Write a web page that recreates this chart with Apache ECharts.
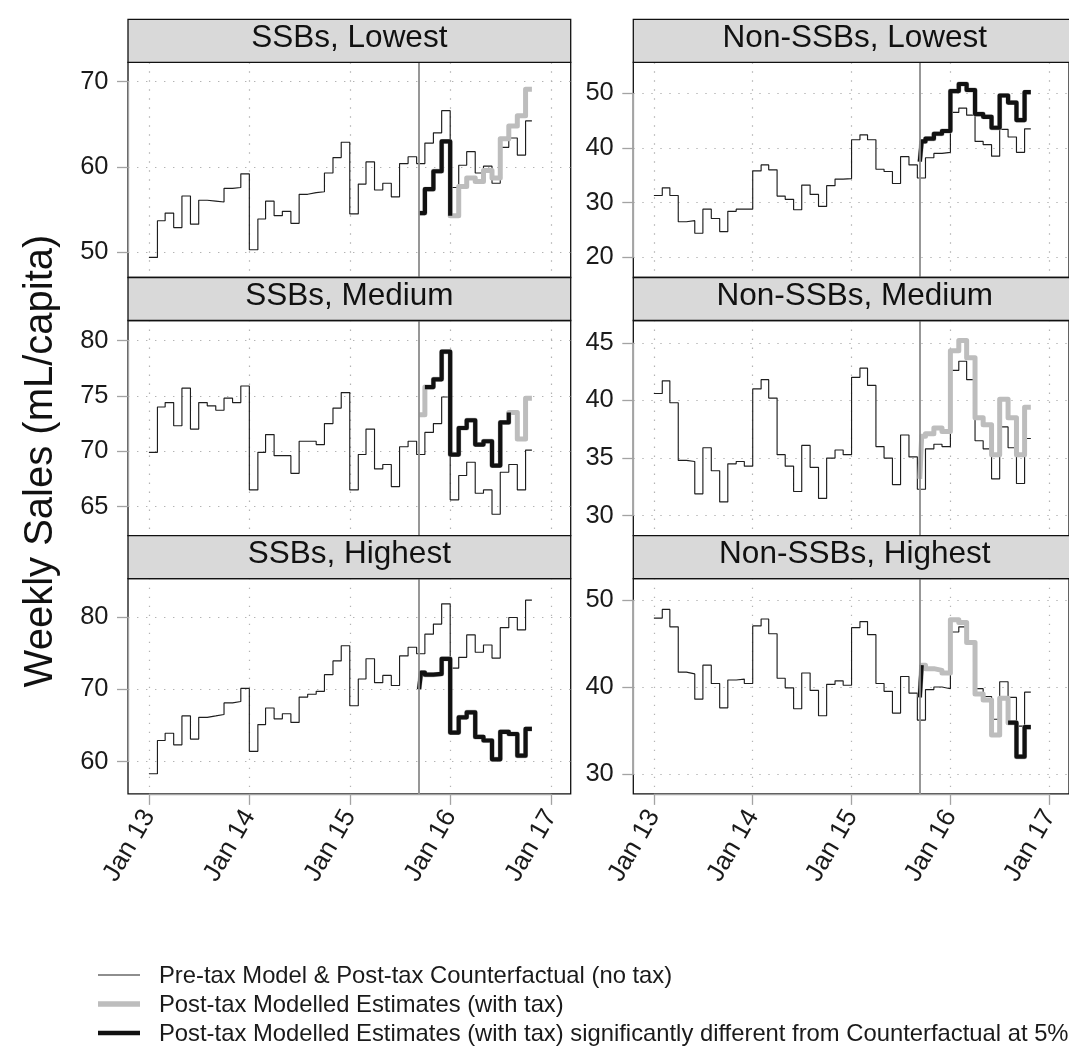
<!DOCTYPE html>
<html>
<head>
<meta charset="utf-8">
<script src="https://cdn.jsdelivr.net/npm/echarts@6/dist/echarts.min.js"></script>
<style>
  html, body { margin: 0; padding: 0; background: #fff; }
  #chart { width: 1069px; height: 1057px; }
</style>
</head>
<body>
<div id="chart"></div>
<script>
// ---- dates -------------------------------------------------------------
function ts(s) {
  const p = s.split('-').map(Number);
  return new Date(p[0], p[1] - 1, p[2]).getTime();
}
// monthly periods, Jan 2013 .. Oct 2016
const monthLabels = [];
for (let y = 2013; y <= 2016; y++) {
  for (let m = 1; m <= 12; m++) {
    if (y === 2016 && m > 10) break;
    monthLabels.push(y + '-' + String(m).padStart(2, '0') + '-01');
  }
}
const taxDate = '2015-09-10';
const seriesEnd = '2016-10-24';
// post-tax periods: first week after the tax, rest of Sep 2015, then Oct 2015 .. Oct 2016
const postLabels = ['2015-09-10', '2015-09-17'].concat(monthLabels.slice(33));
const yearTickLabels = ['2013-01-01', '2014-01-01', '2015-01-01', '2016-01-01', '2017-01-01'];

// ---- values (mL/capita per week) --------------------------------------
// Pre-tax model & post-tax counterfactual, Jan 2013 .. Oct 2016
const ssbLowestBase = [49.4, 53.7, 54.6, 52.9, 56.6, 53.3, 56.1, 56.0, 55.9, 57.5, 57.6, 59.2,
  50.3, 53.9, 56.0, 54.3, 54.8, 53.4, 56.8, 57.0, 57.1, 59.3, 61.1, 62.9,
  54.5, 58.0, 60.6, 57.3, 58.1, 56.5, 60.4, 61.2, 60.4, 62.8, 64.0, 66.6,
  57.6, 60.2, 61.8, 59.3, 60.1, 58.1, 62.3, 63.4, 61.4, 65.4];
const nonSsbLowestBase = [31.3, 32.7, 31.3, 26.5, 26.7, 24.4, 28.8, 27.1, 24.7, 28.4, 28.8, 28.8,
  35.8, 36.9, 36.0, 31.2, 30.6, 28.7, 33.2, 31.5, 29.3, 33.1, 34.3, 34.4,
  41.5, 42.4, 41.5, 36.1, 35.7, 33.5, 38.4, 36.9, 34.5, 38.2, 39.0, 39.2,
  46.5, 47.3, 46.0, 41.2, 40.6, 38.5, 43.4, 42.0, 39.2, 43.5];
const ssbMediumBase = [69.9, 74.0, 74.4, 72.3, 75.7, 72.0, 74.4, 74.1, 73.7, 74.8, 74.4, 75.9,
  66.5, 69.9, 71.5, 69.6, 69.6, 68.0, 70.9, 70.9, 70.6, 72.5, 73.9, 75.3,
  66.5, 69.7, 72.0, 68.4, 68.8, 66.8, 70.4, 70.9, 69.7, 71.7, 72.5, 74.9,
  65.6, 67.8, 69.0, 66.2, 66.5, 64.3, 68.1, 68.8, 66.5, 70.1];
const nonSsbMediumBase = [40.6, 41.7, 39.8, 34.8, 34.7, 31.9, 35.9, 33.9, 31.2, 34.5, 34.7, 34.3,
  41.0, 41.8, 40.2, 35.3, 34.3, 32.1, 36.1, 34.2, 31.5, 35.0, 35.7, 35.3,
  42.0, 42.8, 41.3, 36.0, 35.0, 32.7, 37.0, 35.1, 32.3, 35.8, 36.2, 36.0,
  42.6, 43.4, 41.8, 36.5, 35.8, 33.2, 37.7, 35.9, 32.8, 36.7];
const ssbHighestBase = [58.3, 62.9, 63.9, 62.3, 66.3, 63.1, 66.1, 66.3, 66.5, 68.1, 68.3, 70.1,
  61.4, 65.1, 67.4, 65.9, 66.6, 65.4, 68.9, 69.3, 69.7, 72.0, 73.9, 76.0,
  67.7, 71.4, 74.2, 70.9, 71.9, 70.5, 74.6, 75.8, 74.9, 77.6, 79.0, 81.8,
  72.9, 74.4, 77.5, 75.1, 76.1, 74.3, 78.5, 79.9, 78.2, 82.3];
const nonSsbHighestBase = [47.9, 48.9, 46.9, 41.7, 41.5, 38.6, 42.5, 40.4, 37.6, 40.8, 40.9, 40.4,
  47.0, 47.8, 46.1, 41.0, 39.9, 37.5, 41.6, 39.6, 36.7, 40.3, 40.7, 40.2,
  46.8, 47.5, 46.0, 40.4, 39.5, 37.0, 41.2, 39.3, 36.2, 39.7, 40.0, 39.8,
  46.3, 46.9, 45.1, 39.8, 38.9, 36.3, 40.6, 38.8, 35.5, 39.4];

// Post-tax modelled estimates (with tax)
const ssbLowestTax = [54.6, 54.6, 57.4, 59.5, 63.0, 54.3, 57.7, 58.7, 58.3, 59.6, 58.7, 63.3, 64.8, 66.0, 69.1];
const nonSsbLowestTax = [37.5, 41.2, 41.7, 42.6, 43.1, 50.4, 51.7, 50.6, 46.2, 45.7, 43.7, 49.6, 48.3, 45.1, 50.2];
const ssbMediumTax = [73.3, 73.3, 75.8, 76.5, 79.0, 69.7, 72.1, 72.8, 70.6, 70.9, 68.7, 72.6, 73.5, 71.1, 74.8];
const nonSsbMediumTax = [33.2, 36.9, 37.1, 37.6, 37.3, 44.3, 45.2, 43.7, 38.5, 37.9, 35.3, 40.1, 38.5, 35.3, 39.4];
const ssbHighestTax = [70.0, 72.3, 72.0, 72.1, 74.2, 64.0, 66.1, 66.8, 63.4, 62.9, 60.3, 64.1, 63.8, 60.8, 64.5];
const nonSsbHighestTax = [38.8, 42.5, 42.1, 41.9, 41.6, 47.7, 47.4, 45.1, 39.2, 38.5, 34.5, 38.7, 35.9, 32.0, 35.4];

// 1 = significantly different from counterfactual at 5%
const ssbLowestSig = [1, 1, 1, 1, 1, 0, 0, 0, 0, 0, 0, 0, 0, 0, 0];
const nonSsbLowestSig = [1, 1, 1, 1, 1, 1, 1, 1, 1, 1, 1, 1, 1, 1, 1];
const ssbMediumSig = [0, 0, 1, 1, 1, 1, 1, 1, 1, 1, 1, 1, 0, 0, 0];
const nonSsbMediumSig = [0, 0, 0, 0, 0, 0, 0, 0, 0, 0, 0, 0, 0, 0, 0];
const ssbHighestSig = [1, 1, 1, 1, 1, 1, 1, 1, 1, 1, 1, 1, 1, 1, 1];
const nonSsbHighestSig = [1, 0, 0, 0, 0, 0, 0, 0, 0, 0, 0, 0, 1, 1, 1];

// y tick labels per panel
const ssbLowestTicks = [50, 60, 70];
const nonSsbLowestTicks = [20, 30, 40, 50];
const ssbMediumTicks = [65, 70, 75, 80];
const nonSsbMediumTicks = [30, 35, 40, 45];
const ssbHighestTicks = [60, 70, 80];
const nonSsbHighestTicks = [30, 40, 50];

const panelTitles = ['SSBs, Lowest', 'Non-SSBs, Lowest', 'SSBs, Medium',
  'Non-SSBs, Medium', 'SSBs, Highest', 'Non-SSBs, Highest'];

const legendLabels = [
  'Pre-tax Model & Post-tax Counterfactual (no tax)',
  'Post-tax Modelled Estimates (with tax)',
  'Post-tax Modelled Estimates (with tax) significantly different from Counterfactual at 5%'
];

// ---- panel setup --------------------------------------------------------
const panels = [
  { base: ssbLowestBase, tax: ssbLowestTax, sig: ssbLowestSig, ticks: ssbLowestTicks, yMin: 47.05, yMax: 72.27 },
  { base: nonSsbLowestBase, tax: nonSsbLowestTax, sig: nonSsbLowestSig, ticks: nonSsbLowestTicks, yMin: 16.3, yMax: 55.67 },
  { base: ssbMediumBase, tax: ssbMediumTax, sig: ssbMediumSig, ticks: ssbMediumTicks, yMin: 62.36, yMax: 81.82 },
  { base: nonSsbMediumBase, tax: nonSsbMediumTax, sig: nonSsbMediumSig, ticks: nonSsbMediumTicks, yMin: 28.27, yMax: 46.93 },
  { base: ssbHighestBase, tax: ssbHighestTax, sig: ssbHighestSig, ticks: ssbHighestTicks, yMin: 55.52, yMax: 85.27 },
  { base: nonSsbHighestBase, tax: nonSsbHighestTax, sig: nonSsbHighestSig, ticks: nonSsbHighestTicks, yMin: 27.73, yMax: 52.42 }
];

const FONT = "'Liberation Sans', Arial, Helvetica, sans-serif";
const COLS = [{ left: 128, width: 442.7 }, { left: 633.3, width: 443 }];
const STRIP_TOPS = [19.3, 277.5, 535.7];
const STRIP_H = 43;
const PLOT_H = 215.2;
const X_MIN = ts('2012-10-17');
const X_MAX = ts('2017-03-14');
const yearTicks = yearTickLabels.map(ts);
const monthX = monthLabels.map(ts);
const postX = postLabels.map(ts);
const endX = ts(seriesEnd);
const taxX = ts(taxDate);

const AXIS_GREY = '#a3a3a3';
const dotted = { type: [1.4, 7.6], color: '#b3b3b3', width: 1.2 };

const grids = [], xAxes = [], yAxes = [], series = [], graphics = [];

panels.forEach(function (p, i) {
  const col = i % 2, row = Math.floor(i / 2);
  const left = COLS[col].left, width = COLS[col].width;
  const stripTop = STRIP_TOPS[row];
  const bottomRow = row === 2;

  grids.push({
    left: left, top: stripTop + STRIP_H, width: width, height: PLOT_H,
    show: true, borderColor: '#111', borderWidth: 1.3, backgroundColor: '#fff'
  });

  // x is a timestamp on a linear scale
  xAxes.push({
    type: 'value', gridIndex: i, min: X_MIN, max: X_MAX,
    axisLine: { show: false },
    axisTick: { show: bottomRow, customValues: yearTicks, length: 11, lineStyle: { color: AXIS_GREY, width: 1.3 } },
    axisLabel: {
      show: bottomRow, customValues: yearTicks, rotate: 60, margin: 18,
      fontSize: 26, fontFamily: FONT, color: '#1a1a1a',
      formatter: function (v) { return 'Jan ' + String(new Date(v).getFullYear()).slice(2); }
    },
    splitLine: { show: true, lineStyle: dotted }
  });

  yAxes.push({
    type: 'value', gridIndex: i, min: p.yMin, max: p.yMax,
    axisLine: { show: false },
    axisTick: { show: true, customValues: p.ticks, length: 11, lineStyle: { color: AXIS_GREY, width: 1.3 } },
    axisLabel: { customValues: p.ticks, margin: 19.5, fontSize: 25.5, fontFamily: FONT, color: '#1a1a1a' },
    splitLine: { show: true, lineStyle: dotted }
  });

  // axis segments between the outer ticks, and the tax start line
  const marks = [
    { xAxis: taxX, lineStyle: { color: '#8c8c8c', width: 1.8, type: 'solid' } },
    [{ coord: [X_MIN, p.ticks[0]] }, { coord: [X_MIN, p.ticks[p.ticks.length - 1]] }]
  ];
  if (bottomRow) {
    marks.push([{ coord: [yearTicks[0], p.yMin] }, { coord: [yearTicks[yearTicks.length - 1], p.yMin] }]);
  }

  const baseData = p.base.map(function (v, k) { return [monthX[k], v]; });
  baseData.push([endX, p.base[p.base.length - 1]]);

  const taxData = p.tax.map(function (v, k) { return [postX[k], v]; });
  taxData.push([endX, p.tax[p.tax.length - 1]]);

  series.push({
    type: 'line', xAxisIndex: i, yAxisIndex: i, step: 'end',
    showSymbol: false, symbol: 'none', clip: false, z: 2,
    lineStyle: { color: '#1e1e1e', width: 1.15 },
    data: baseData,
    markLine: {
      silent: true, symbol: ['none', 'none'], label: { show: false },
      emphasis: { disabled: true },
      lineStyle: { color: AXIS_GREY, width: 1.3, type: 'solid' },
      data: marks
    }
  });

  series.push({
    type: 'line', xAxisIndex: i, yAxisIndex: i, step: 'end',
    showSymbol: false, symbol: 'none', z: 3,
    lineStyle: { color: '#bdbdbd', width: 5, join: 'round' },
    data: taxData
  });

  // significant stretches drawn in black, each one up to the next period's value
  let k = 0;
  while (k < p.sig.length) {
    if (p.sig[k]) {
      let e = k;
      while (e + 1 < p.sig.length && p.sig[e + 1]) e++;
      series.push({
        type: 'line', xAxisIndex: i, yAxisIndex: i, step: 'end',
        showSymbol: false, symbol: 'none', z: 4,
        lineStyle: { color: '#111', width: 4.2, join: 'round' },
        data: taxData.slice(k, e + 2)
      });
      k = e + 1;
    } else {
      k++;
    }
  }

  // facet strip
  graphics.push({
    type: 'rect', z: 10,
    shape: { x: left, y: stripTop, width: width, height: STRIP_H },
    style: { fill: '#d9d9d9', stroke: '#111', lineWidth: 1.3 }
  });
  graphics.push({
    type: 'text', z: 11, x: left + width / 2, y: stripTop + 19,
    style: { text: panelTitles[i], font: '31.5px ' + FONT, fill: '#111', align: 'center', verticalAlign: 'middle' }
  });
});

// y axis title
graphics.push({
  type: 'text', x: 41, y: 461, rotation: Math.PI / 2,
  style: { text: 'Weekly Sales (mL/capita)', font: '40px ' + FONT, fill: '#111', align: 'center', verticalAlign: 'middle' }
});

// legend
const legendStyles = [
  { stroke: '#1e1e1e', lineWidth: 1.2 },
  { stroke: '#bdbdbd', lineWidth: 5.5 },
  { stroke: '#111', lineWidth: 4.5 }
];
const legendRows = [975, 1004, 1033];
legendLabels.forEach(function (txt, j) {
  graphics.push({
    type: 'line', shape: { x1: 98, y1: legendRows[j], x2: 140, y2: legendRows[j] },
    style: legendStyles[j]
  });
  graphics.push({
    type: 'text', x: 159, y: legendRows[j] + 1,
    style: { text: txt, font: '23.8px ' + FONT, fill: '#1a1a1a', align: 'left', verticalAlign: 'middle' }
  });
});

const chart = echarts.init(document.getElementById('chart'), null, { renderer: 'canvas' });
chart.setOption({
  animation: false,
  backgroundColor: '#fff',
  grid: grids,
  xAxis: xAxes,
  yAxis: yAxes,
  series: series,
  graphic: graphics
});
</script>
</body>
</html>
